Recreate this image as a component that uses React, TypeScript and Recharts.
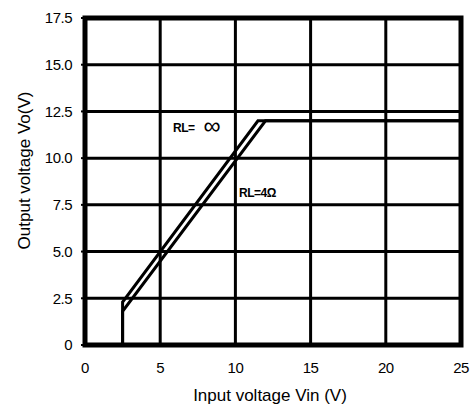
import { LineChart, Line, XAxis, YAxis, CartesianGrid, ReferenceArea, ReferenceDot } from "recharts";

// RL = infinity curve
const infVin = [2.5, 2.5, 11.5, 25];
const infVo = [0, 2.3, 12, 12];
// RL = 4 ohm curve
const r4Vin = [2.5, 2.5, 12, 25];
const r4Vo = [0, 1.8, 12, 12];

const xTicks = [0, 5, 10, 15, 20, 25];
const yTicks = [0, 2.5, 5, 7.5, 10, 12.5, 15, 17.5];

const infData = infVin.map((x, i) => ({ x, y: infVo[i] }));
const r4Data = r4Vin.map((x, i) => ({ x, y: r4Vo[i] }));

const font = "'Liberation Sans', Arial, sans-serif";
const tickStyle = { fontSize: 15, fill: "#000", fontFamily: font, letterSpacing: -0.5 };

export default function App() {
    return (
        <div style={{ position: "absolute", left: 0, top: 0 }}>
            <LineChart width={474} height={408} margin={{ top: 18, right: 13, left: 0, bottom: 0 }}>
                <CartesianGrid stroke="#000" strokeWidth={3} />
                <XAxis type="number" dataKey="x" domain={[0, 25]} ticks={xTicks} height={63}
                       axisLine={false} tickLine={false} tickSize={6} tickMargin={11} tick={tickStyle}
                       label={{
                           content: ({ viewBox }: any) => (
                               <text x={viewBox.x + viewBox.width / 2 - 3} y={viewBox.y + 56} textAnchor="middle"
                                     fontSize={17} fontFamily={font} fill="#000">Input voltage Vin (V)</text>
                           )
                       }} />
                <YAxis type="number" domain={[0, 17.5]} ticks={yTicks} width={85}
                       axisLine={false} tickSize={4} tickMargin={9} tick={tickStyle}
                       tickLine={{ stroke: "#000", strokeWidth: 2 }}
                       tickFormatter={(v: number) => (v === 0 ? "0" : v.toFixed(1))}
                       label={{
                           content: ({ viewBox }: any) => {
                               const cx = viewBox.x + 24;
                               const cy = viewBox.y + viewBox.height / 2 - 11;
                               return (
                                   <text x={cx} y={cy} transform={`rotate(-90 ${cx} ${cy})`} textAnchor="middle"
                                         dominantBaseline="central" fontSize={17} fontFamily={font} fill="#000">
                                       Output voltage Vo(V)
                                   </text>
                               );
                           }
                       }} />
                <ReferenceArea x1={0} x2={25} y1={0} y2={17.5} fill="none" fillOpacity={0} stroke="#000" strokeWidth={5} ifOverflow="visible" />
                <Line data={infData} dataKey="y" type="linear" stroke="#000" strokeWidth={3} dot={false} isAnimationActive={false} />
                <Line data={r4Data} dataKey="y" type="linear" stroke="#000" strokeWidth={3} dot={false} isAnimationActive={false} />
                <ReferenceDot x={5.85} y={11.4} r={0} ifOverflow="visible"
                              shape={(p: any) => (
                                  <text x={p.cx} y={p.cy} fontSize={12} fontWeight="bold" fontFamily={font} letterSpacing={-0.5} fill="#000">
                                      RL=<tspan dx={9} dy={2} fontSize={24} fontWeight="normal">∞</tspan>
                                  </text>
                              )} />
                <ReferenceDot x={10.24} y={7.92} r={0} ifOverflow="visible"
                              shape={(p: any) => (
                                  <text x={p.cx} y={p.cy} fontSize={12} fontWeight="bold" fontFamily={font} letterSpacing={-0.5} fill="#000">
                                      RL=4Ω
                                  </text>
                              )} />
            </LineChart>
        </div>
    );
}
